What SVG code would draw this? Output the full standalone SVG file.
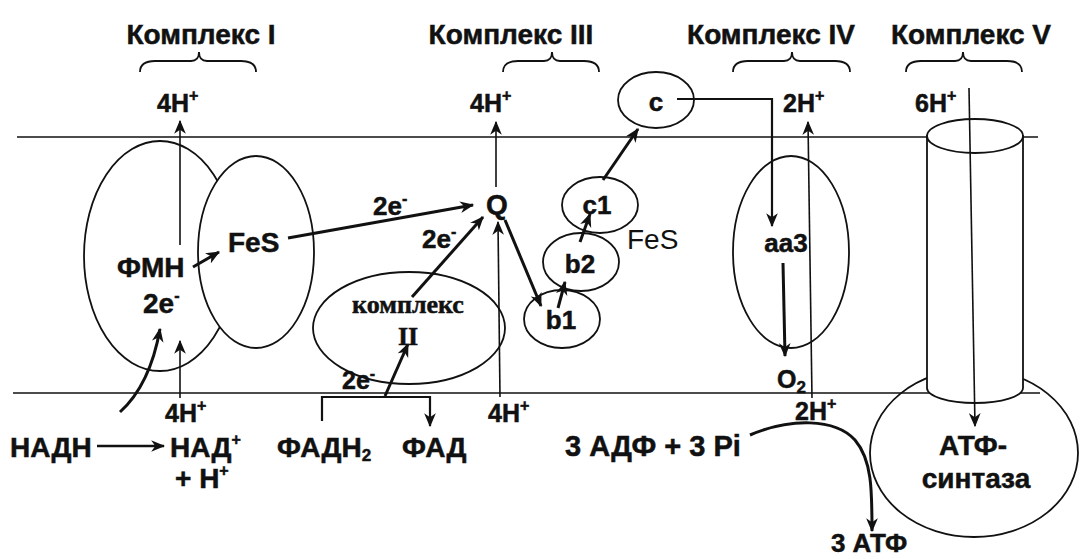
<svg xmlns="http://www.w3.org/2000/svg" width="1081" height="559" viewBox="0 0 1081 559">
<style>
text{font-family:"Liberation Sans",Arial,sans-serif;font-weight:bold;fill:#111;stroke:#111;stroke-width:0.5}
.ti{font-size:28px}
.l24{font-size:25px}
.l26{font-size:26px}
.l28{font-size:28px}
.reg{font-weight:normal;stroke:none}
.serif{font-family:"Liberation Serif","Times New Roman",serif}
.sup{font-size:16px}
.sub{font-size:17px}
.mem{stroke:#111;stroke-width:1.6;fill:none}
.node{stroke:#111;stroke-width:1.8;fill:none}
.nodew{stroke:#111;stroke-width:1.8;fill:#fff}
.brace{stroke:#111;stroke-width:1.8;fill:none}
.thin{stroke:#111;stroke-width:1.6;fill:none;marker-end:url(#ah)}
.thick{stroke:#111;stroke-width:3;fill:none;marker-end:url(#ah)}
</style>
<defs>
<marker id="ah" viewBox="0 0 12 10" markerWidth="14" markerHeight="12" refX="11" refY="5" orient="auto" markerUnits="userSpaceOnUse">
<path d="M0,0 L12,5 L0,10 L3.5,5 z" fill="#111"/>
</marker>
</defs>
<rect width="1081" height="559" fill="#fff"/>

<g id="membrane">
<line class="mem" x1="17" y1="137" x2="1038" y2="137"/>
<line class="mem" x1="13" y1="393" x2="1040" y2="393"/>
</g>

<g id="titles">
<text class="ti" x="201" y="44" text-anchor="middle">Комплекс I</text>
<text class="ti" x="511" y="44" text-anchor="middle">Комплекс III</text>
<text class="ti" x="771" y="44" text-anchor="middle">Комплекс IV</text>
<text class="ti" x="971" y="44" text-anchor="middle">Комплекс V</text>
<path class="brace" d="M140,72 Q140,61 155,61 L191,61 Q199,61 199,52 Q199,61 207,61 L241,61 Q256,61 256,72"/>
<path class="brace" d="M503,72 Q503,61 518,61 L544,61 Q552,61 552,52 Q552,61 560,61 L584,61 Q599,61 599,72"/>
<path class="brace" d="M733,72 Q733,61 748,61 L784,61 Q792,61 792,52 Q792,61 800,61 L835,61 Q850,61 850,72"/>
<path class="brace" d="M906,72 Q906,61 921,61 L955,61 Q963,61 963,52 Q963,61 971,61 L1007,61 Q1022,61 1022,72"/>
</g>

<g id="complex1">
<ellipse class="node" cx="160" cy="256" rx="76" ry="115"/>
<ellipse id="fes1" class="nodew" cx="256" cy="252" rx="58" ry="96"/>
<text class="l28" x="117" y="277">ФМН</text>
<text class="l28" x="143" y="313">2e<tspan class="sup" dy="-12">-</tspan></text>
<text class="l28" x="228" y="252">FeS</text>
</g>

<g id="complex2">
<ellipse class="node" cx="409" cy="328" rx="96" ry="56"/>
<text class="serif l26" x="408" y="313" text-anchor="middle">комплекс</text>
<text class="serif l26" x="408" y="345" text-anchor="middle">II</text>
</g>

<g id="ubiquinone">
<text class="l28" x="497" y="214" text-anchor="middle">Q</text>
</g>

<g id="complex3">
<ellipse class="node" cx="562" cy="319" rx="38" ry="29"/>
<ellipse class="node" cx="581" cy="262" rx="38" ry="29"/>
<ellipse class="node" cx="600" cy="205" rx="38" ry="28"/>
<text class="l26" x="561" y="329" text-anchor="middle">b1</text>
<text class="l26" x="580" y="273" text-anchor="middle">b2</text>
<text class="l26" x="597" y="214" text-anchor="middle">c1</text>
<text class="l28 reg" x="627" y="249">FeS</text>
</g>

<g id="cytc">
<ellipse class="node" cx="656" cy="100" rx="38" ry="28"/>
<text class="l26" x="656" y="111" text-anchor="middle">c</text>
</g>

<g id="complex4">
<ellipse class="node" cx="791" cy="252" rx="58" ry="96"/>
<text class="l26" x="786" y="252" text-anchor="middle">aa3</text>
<text class="l24" x="777" y="388">O<tspan class="sub" dy="5">2</tspan></text>
</g>

<g id="complex5">
<ellipse class="node" cx="974" cy="453" rx="104" ry="84"/>
<path class="nodew" d="M927,136 L927,388 A48,15 0 0 0 1023,388 L1023,136 Z"/>
<ellipse class="nodew" cx="975" cy="136" rx="48" ry="17"/>
<text class="l28" x="973" y="455" text-anchor="middle">АТФ-</text>
<text class="l28" x="976" y="488" text-anchor="middle">синтаза</text>
</g>

<g id="protons">
<text class="l24" x="157" y="112">4H<tspan class="sup" dy="-11">+</tspan></text>
<text class="l24" x="470" y="112">4H<tspan class="sup" dy="-11">+</tspan></text>
<text class="l24" x="783" y="112">2H<tspan class="sup" dy="-11">+</tspan></text>
<text class="l24" x="915" y="112">6H<tspan class="sup" dy="-11">+</tspan></text>
<text class="l24" x="165" y="422">4H<tspan class="sup" dy="-11">+</tspan></text>
<text class="l24" x="488" y="422">4H<tspan class="sup" dy="-11">+</tspan></text>
<text class="l24" x="795" y="420">2H<tspan class="sup" dy="-11">+</tspan></text>
</g>

<g id="substrates">
<text class="l28" x="10" y="457">НАДН</text>
<text class="l28" x="170" y="457">НАД<tspan class="sup" dy="-12">+</tspan></text>
<text class="l28" x="175" y="488">+ H<tspan class="sup" dy="-12">+</tspan></text>
<text class="l28" x="277" y="457">ФАДН<tspan class="sub" dy="4">2</tspan></text>
<text class="l28" x="402" y="457">ФАД</text>
<text class="l28" x="565" y="456" style="font-size:29px">3 АДФ + 3 Pi</text>
<text class="l26" x="869" y="552" text-anchor="middle">3 АТФ</text>
</g>

<g id="electron-labels">
<text class="l26" x="373" y="215">2e<tspan class="sup" dy="-11">-</tspan></text>
<text class="l26" x="422" y="248">2e<tspan class="sup" dy="-11">-</tspan></text>
<text class="l24" x="342" y="389">2e<tspan class="sup" dy="-10">-</tspan></text>
</g>

<g id="connectors">
<line class="thin" x1="180" y1="245" x2="180" y2="121"/>
<line class="thin" x1="496" y1="187" x2="496" y2="122"/>
<line class="thin" x1="812" y1="398" x2="808" y2="122"/>
<line class="thin" x1="969" y1="88" x2="975" y2="426"/>
<line class="thin" x1="180" y1="398" x2="180" y2="341"/>
<line class="thin" x1="500" y1="397" x2="498" y2="222"/>
<line class="thick" x1="97" y1="446" x2="164" y2="446" style="stroke-width:2.4"/>
<path class="thick" d="M120,412 Q150,385 160,329"/>
<line class="thick" x1="193" y1="267" x2="219" y2="252"/>
<line class="thick" x1="288" y1="238" x2="473" y2="205"/>
<path class="thin" d="M322,421 V397 H430 V426" style="stroke-width:2.2"/>
<line class="thick" x1="385" y1="396" x2="408" y2="344"/>
<line class="thick" x1="412" y1="297" x2="483" y2="217"/>
<line class="thick" x1="505" y1="220" x2="541" y2="306"/>
<line class="thick" x1="558" y1="308" x2="565" y2="282"/>
<line class="thick" x1="580" y1="242" x2="590" y2="214"/>
<line class="thick" x1="603" y1="180" x2="638" y2="129"/>
<path class="thin" d="M677,99 H772 V226" style="stroke-width:2.2"/>
<line class="thick" x1="783" y1="263" x2="785" y2="356"/>
<path class="thick" d="M750,435 C790,418 835,418 855,440 C872,460 872,490 872,531"/>
</g>
</svg>
